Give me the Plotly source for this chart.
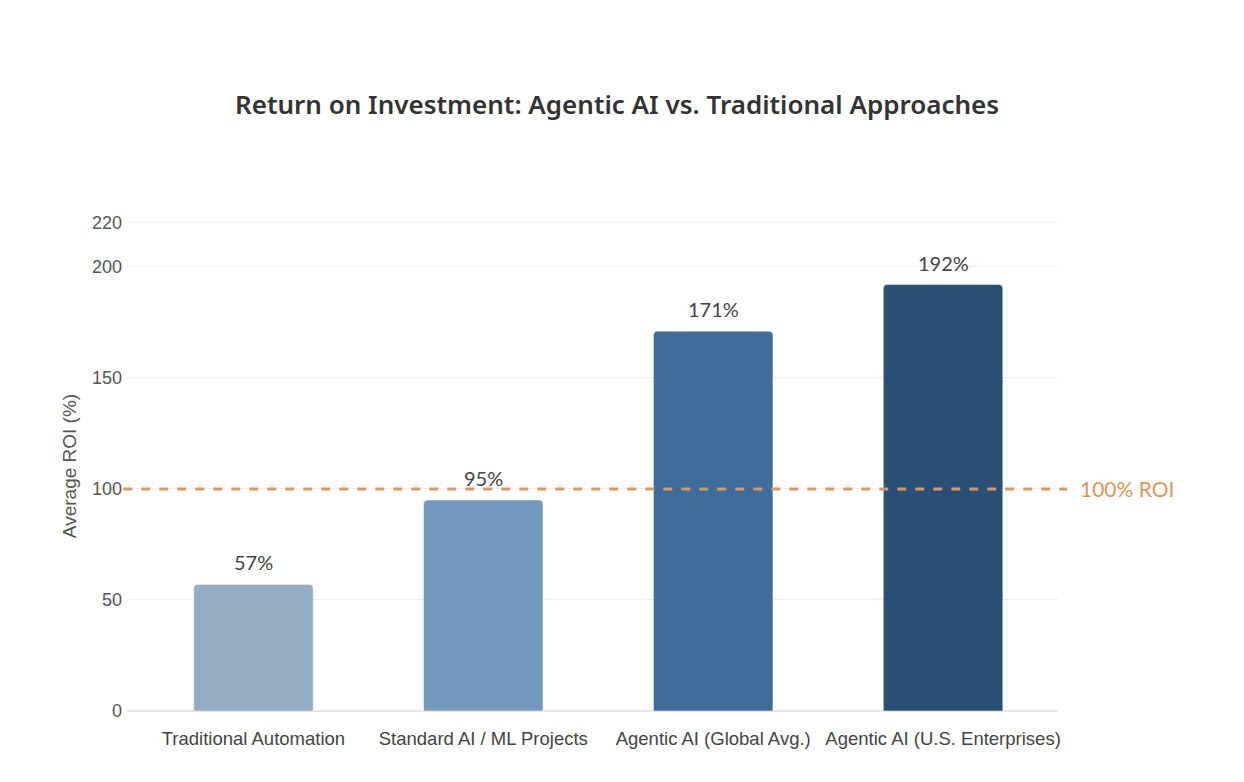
import plotly.graph_objects as go

categories = ["Traditional Automation", "Standard AI / ML Projects",
              "Agentic AI (Global Avg.)", "Agentic AI (U.S. Enterprises)"]
roi_values = [57, 95, 171, 192]
bar_labels = ["57%", "95%", "171%", "192%"]
bar_colors = ["#95acc5", "#739abd", "#3e6c9b", "#284f76"]
y_ticks = [0, 50, 100, 150, 200, 220]
threshold = 100
threshold_label = "100% ROI"

fig = go.Figure()
fig.add_trace(go.Bar(
    x=categories, y=roi_values,
    marker=dict(color=bar_colors, cornerradius=4,
                line=dict(color="rgba(255,255,255,0.5)", width=1)),
    width=0.52,
    cliponaxis=False, hoverinfo="skip",
))

for cat, val, lab in zip(categories, roi_values, bar_labels):
    fig.add_annotation(x=cat, y=val, text=lab, showarrow=False,
                       yanchor="bottom", yshift=8,
                       font=dict(family="Lato, Inter, sans-serif", size=20, color="#444444"))

fig.add_shape(type="line", xref="paper", yref="y",
              x0=-0.004, x1=1.01, y0=threshold, y1=threshold,
              line=dict(color="#e0955a", width=3, dash="dash"), layer="above")
fig.add_annotation(xref="paper", yref="y", x=1.022, y=threshold,
                   text=threshold_label, showarrow=False, xanchor="left",
                   font=dict(family="Lato, Inter, sans-serif", size=21, color="#e0955a"))

fig.update_layout(
    width=1244, height=782,
    margin=dict(l=119, r=194, t=213, b=79),
    paper_bgcolor="white", plot_bgcolor="white",
    title=dict(text="Return on Investment: Agentic AI vs. Traditional Approaches",
               x=0.4896, xanchor="center", y=0.876, yanchor="middle",
               font=dict(family="Noto Sans, Open Sans, sans-serif", size=26,
                         color="#333333", weight=600)),
    showlegend=False,
)
fig.update_xaxes(range=[-0.55, 3.5], showgrid=False, showline=False, ticks="",
                 ticklabelstandoff=14,
                 tickfont=dict(family="Liberation Sans, Arial, sans-serif", size=18.5, color="#444444"))
fig.update_yaxes(range=[0, 220.6], tickvals=y_ticks, showgrid=True, gridcolor="#eeeeee",
                 gridwidth=1, zeroline=True, zerolinecolor="#e6e6e6", showline=False,
                 ticklabelstandoff=4,
                 tickfont=dict(family="Liberation Sans, Arial, sans-serif", size=18, color="#555555"),
                 title=dict(text="Average ROI (%)", standoff=10,
                            font=dict(family="Liberation Sans, Arial, sans-serif", size=19, color="#555555")))

fig.write_html("out.html")
